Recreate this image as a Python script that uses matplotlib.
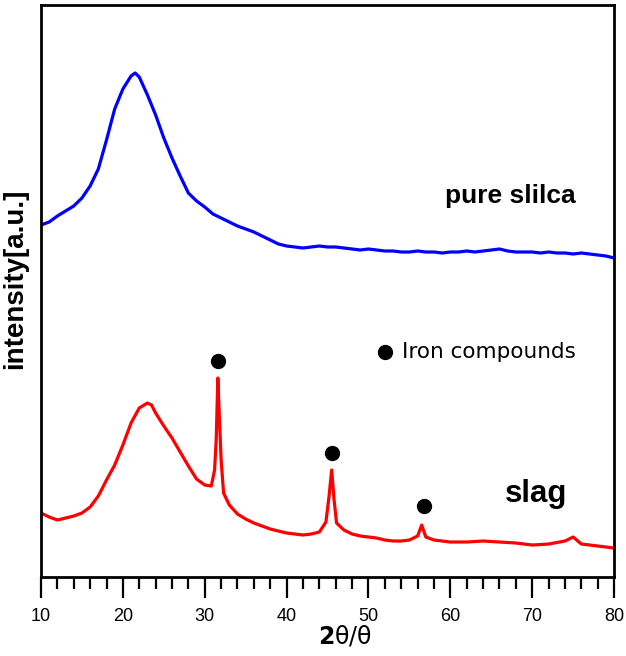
import matplotlib
matplotlib.use("Agg")
import matplotlib.pyplot as plt
from matplotlib.ticker import MultipleLocator

# 2theta positions (deg) and intensities (a.u.)
silica_2theta = [10, 11, 12, 13, 14, 15, 16, 17, 18, 19, 20, 21, 21.5, 22, 23, 24, 25, 26, 27, 28,
                 29, 30, 31, 32, 33, 34, 35, 36, 37, 38, 39, 40, 41, 42, 43, 44, 45, 46, 47, 48,
                 49, 50, 51, 52, 53, 54, 55, 56, 57, 58, 59, 60, 61, 62, 63, 64, 65, 66, 67, 68,
                 69, 70, 71, 72, 73, 74, 75, 76, 77, 78, 79, 80]
silica_int = [352, 355, 361, 366, 371, 379, 391, 408, 437, 468, 488, 501, 504, 500, 482, 462, 439, 419, 401, 384,
              376, 370, 363, 359, 355, 351, 348, 345, 341, 337, 333, 331, 330, 329, 330, 331, 330, 330, 329, 328,
              327, 328, 327, 326, 326, 325, 325, 326, 325, 325, 324, 325, 325, 326, 325, 326, 327, 328, 326, 325,
              325, 325, 324, 325, 324, 324, 323, 324, 323, 322, 321, 319]

slag_2theta = [10, 11, 12, 13, 14, 15, 16, 17, 18, 19, 20, 21, 22, 23, 23.5, 24, 25, 26, 27, 28,
               29, 30, 30.8, 31.2, 31.4, 31.6, 31.8, 32.0, 32.3, 33, 34, 35, 36, 37, 38, 39, 40, 41, 42, 43,
               44, 44.8, 45.2, 45.5, 45.8, 46.1, 47, 48, 49, 50, 51, 52, 53, 54, 55, 56, 56.5, 57, 58, 60,
               62, 64, 66, 68, 70, 72, 74, 75, 76, 78, 80]
slag_int = [64, 60, 57, 59, 61, 64, 70, 81, 97, 112, 132, 154, 169, 174, 172, 164, 151, 139, 125, 111,
            98, 92, 91, 107, 137, 199, 157, 117, 84, 72, 63, 58, 54, 51, 48, 46, 44, 43, 42, 43,
            45, 55, 82, 107, 77, 54, 47, 43, 41, 40, 39, 37, 36, 36, 37, 41, 52, 40, 37, 35,
            35, 36, 35, 34, 32, 33, 36, 40, 33, 31, 29]

# iron compound peaks (dot markers)
iron_2theta = [31.6, 45.5, 56.8]
iron_mark = [216, 124, 71]

fig = plt.figure(figsize=(6.26, 6.56), dpi=100)
ax = fig.add_axes([0.0655, 0.1204, 0.9155, 0.872])

ax.plot(silica_2theta, silica_int, color='#0000ff', lw=2.3)
ax.plot(slag_2theta, slag_int, color='#ff0000', lw=2.3)
ax.plot(iron_2theta, iron_mark, 'o', color='black', ms=10)

# legend-like annotation
ax.plot([52.0], [225], 'o', color='black', ms=10)
ax.text(54.1, 225, 'Iron compounds', fontsize=15.5, family='DejaVu Sans', va='center', ha='left')

ax.text(59.35, 381, 'pure slilca', fontsize=19, family='Liberation Sans', weight='bold', va='center')
ax.text(66.7, 83, 'slag', fontsize=22.5, family='Liberation Sans', weight='bold', va='center')

ax.set_xlim(10, 80)
ax.set_ylim(0, 572)
ax.set_yticks([])
ax.xaxis.set_major_locator(MultipleLocator(10))
ax.xaxis.set_minor_locator(MultipleLocator(2))
ax.tick_params(axis='x', which='major', direction='out', length=15, width=1.6, pad=7)
ax.tick_params(axis='x', which='minor', direction='out', length=8.5, width=1.6)
for lab in ax.get_xticklabels():
    lab.set_fontsize(13)
    lab.set_family(['Liberation Sans Narrow', 'Liberation Sans'])

for sp in ax.spines.values():
    sp.set_linewidth(2)

fig.text(0.5515, 0.030, r'$\mathbf{2}\mathrm{θ/θ}$', fontsize=17, ha='center', va='center')
fig.text(0.024, 0.575, 'intensity[a.u.]', fontsize=20, family='Liberation Sans', weight='bold',
         rotation=90, ha='center', va='center')

fig.savefig('out.png', dpi=100)
